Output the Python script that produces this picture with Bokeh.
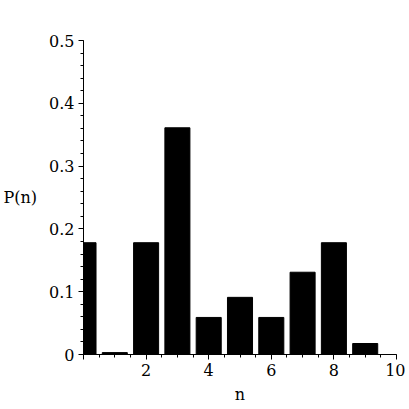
from bokeh.plotting import figure
from bokeh.models import SingleIntervalTicker, Range1d
from bokeh.embed import file_html
from bokeh.resources import INLINE

n_values = [0, 1, 2, 3, 4, 5, 6, 7, 8, 9]
p_values = [0.178, 0.003, 0.178, 0.361, 0.059, 0.091, 0.059, 0.131, 0.178, 0.0175]
x_label = "n"
y_label = "P(n)"

FONT = "DejaVu Serif"

p = figure(width=405, height=408, output_backend="svg", toolbar_location=None,
           x_range=Range1d(0, 10), y_range=Range1d(0, 0.5),
           min_border_left=82, min_border_right=9, min_border_top=40, min_border_bottom=54)
p.outline_line_color = None
p.xgrid.visible = False
p.ygrid.visible = False
p.background_fill_color = "white"

p.vbar(x=n_values, top=p_values, width=0.8, bottom=0, fill_color="black", line_color="black")

p.xaxis.ticker = SingleIntervalTicker(interval=2, num_minor_ticks=4)
p.yaxis.ticker = SingleIntervalTicker(interval=0.1, num_minor_ticks=5)
p.xaxis.major_label_overrides = {0: ""}
p.yaxis.major_label_overrides = {0: "0"}

for ax in (p.xaxis[0], p.yaxis[0]):
    ax.axis_line_color = "black"
    ax.major_tick_line_color = "black"
    ax.minor_tick_line_color = "black"
    ax.major_tick_out = 5
    ax.major_tick_in = 0
    ax.minor_tick_out = 3
    ax.minor_tick_in = 0
    ax.major_label_text_font = FONT
    ax.major_label_text_font_size = "16px"
    ax.major_label_text_color = "black"
    ax.major_label_standoff = 4
    ax.axis_label_text_font = FONT
    ax.axis_label_text_font_size = "16px"
    ax.axis_label_text_font_style = "normal"
    ax.axis_label_text_color = "black"

p.xaxis.axis_label = x_label
p.xaxis.axis_label_standoff = 6

p.yaxis.axis_label = y_label
p.yaxis.axis_label_standoff = 9
if hasattr(p.yaxis[0], "axis_label_orientation"):
    p.yaxis[0].axis_label_orientation = "horizontal"

open("out.html", "w").write(file_html(p, INLINE))
